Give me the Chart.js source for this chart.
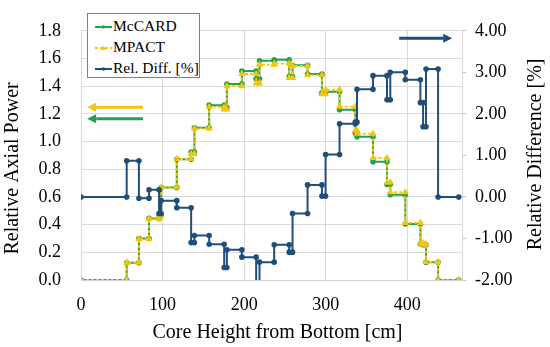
<!DOCTYPE html>
<html>
<head>
<meta charset="utf-8">
<script src="https://cdn.jsdelivr.net/npm/chart.js@4.4.1/dist/chart.umd.min.js"></script>
<style>
  body { margin: 0; background: #fff; }
  #wrap { position: relative; width: 550px; height: 347px; }
  #legend {
    position: absolute; left: 87px; top: 13px; width: 113px; height: 65px;
    box-sizing: border-box; border: 1px solid #808080; background: #fff;
    font: 15.5px "Liberation Serif", "Times New Roman", serif; color: #000; padding-top: 1px;
  }
  #legend div { height: 21px; line-height: 21px; white-space: nowrap; }
  #legend svg { vertical-align: middle; margin-left: 7px; margin-right: 1px; }
</style>
</head>
<body>
<div id="wrap">
  <canvas id="chart"></canvas>
  <div id="legend"></div>
</div>
<script>
// axial zone edges [cm], one value per zone between two edges
const zoneEdges = [0, 56, 71, 83.4, 95.7, 98.2, 117.4, 135, 139, 157.1, 175.5, 178.8, 197.2,
  214.7, 218.8, 236.8, 255.2, 259.3, 277.7, 295.3, 299.8, 316.9, 336.2, 338.3, 357.9,
  375.1, 379.1, 397.5, 416, 419.3, 422.9, 437.7, 463];

const mccard = [0, 0.125, 0.300, 0.445, 0.470, 0.668, 0.872, 0.925, 1.100, 1.263, 1.245,
  1.416, 1.510, 1.454, 1.583, 1.590, 1.470, 1.551, 1.488, 1.352, 1.360, 1.229, 1.062,
  1.034, 0.854, 0.690, 0.616, 0.405, 0.262, 0.255, 0.128, 0];

const mpact = [0, 0.126, 0.297, 0.443, 0.465, 0.668, 0.874, 0.910, 1.095, 1.250, 1.232,
  1.400, 1.488, 1.420, 1.555, 1.563, 1.460, 1.546, 1.480, 1.342, 1.375, 1.252, 1.080,
  1.057, 0.882, 0.705, 0.634, 0.413, 0.265, 0.258, 0.130, 0];

const relDiff = [0, 0.87, -0.03, 0.17, -0.40, -0.09, -0.26, -1.10, -0.93, -1.14, -1.70,
  -1.27, -1.45, -2.30, -1.57, -1.15, -1.33, -0.40, 0.29, 0.02, 1.02, 1.76, 1.80,
  2.59, 2.92, 2.34, 3.00, 2.82, 2.27, 1.69, 3.08, 0];

const xTicks = [0, 100, 200, 300, 400];
const powerTicks = [0, 0.2, 0.4, 0.6, 0.8, 1.0, 1.2, 1.4, 1.6, 1.8];
const diffTicks = [-2, -1, 0, 1, 2, 3, 4];

const GREEN = '#23a24d';
const YELLOW = '#f4c50c';
const BLUE = '#1f4e79';
const GRID = '#d9d9d9';
const FONT = '"Liberation Serif", "Times New Roman", serif';

Chart.defaults.font.family = FONT;
Chart.defaults.color = '#000';

// two points per zone -> step line
function steps(values) {
  const pts = [];
  values.forEach((v, i) => {
    pts.push({ x: zoneEdges[i], y: v });
    pts.push({ x: zoneEdges[i + 1], y: v });
  });
  return pts;
}

const datasets = [
  { label: 'McCARD', data: steps(mccard), yAxisID: 'y', borderColor: GREEN, backgroundColor: GREEN,
    borderWidth: 2, pointStyle: 'circle', pointRadius: 1.8, order: 2 },
  { label: 'MPACT', data: steps(mpact), yAxisID: 'y', borderColor: YELLOW, backgroundColor: YELLOW,
    borderWidth: 1.8, borderDash: [3, 2], pointStyle: 'triangle', pointRadius: 2.4, order: 1 },
  { label: 'Rel. Diff. [%]', data: steps(relDiff), yAxisID: 'y2', borderColor: BLUE, backgroundColor: BLUE,
    borderWidth: 2, pointStyle: 'circle', pointRadius: 1.8, order: 0 }
];

// arrows telling which axis each series uses
const arrowPlugin = {
  id: 'arrows',
  afterDatasetsDraw(chart) {
    const { ctx, scales } = chart;
    const list = [
      { from: 76, to: 7.5, y: 1.247, axis: 'y', color: YELLOW },
      { from: 76, to: 7.5, y: 1.165, axis: 'y', color: GREEN },
      { from: 390, to: 455, y: 3.82, axis: 'y2', color: BLUE }
    ];
    list.forEach(a => {
      const x1 = scales.x.getPixelForValue(a.from);
      const x2 = scales.x.getPixelForValue(a.to);
      const y = scales[a.axis].getPixelForValue(a.y);
      const dir = Math.sign(x2 - x1);
      const head = 9;
      ctx.save();
      ctx.strokeStyle = a.color;
      ctx.fillStyle = a.color;
      ctx.lineWidth = 3;
      ctx.beginPath();
      ctx.moveTo(x1, y);
      ctx.lineTo(x2 - dir * head, y);
      ctx.stroke();
      ctx.beginPath();
      ctx.moveTo(x2, y);
      ctx.lineTo(x2 - dir * head, y - 4.5);
      ctx.lineTo(x2 - dir * head, y + 4.5);
      ctx.closePath();
      ctx.fill();
      ctx.restore();
    });
  }
};

// axis titles, placed like the original (both vertical ones read bottom-to-top)
const titlePlugin = {
  id: 'axisTitles',
  afterDraw(chart) {
    const { ctx, chartArea: a } = chart;
    const items = [
      { text: 'Core Height from Bottom [cm]', x: (a.left + a.right) / 2 + 6, y: chart.height - 14, rot: 0 },
      { text: 'Relative Axial Power', x: 13, y: (a.top + a.bottom) / 2 + 13, rot: -Math.PI / 2 },
      { text: 'Relative Difference [%]', x: chart.width - 14, y: (a.top + a.bottom) / 2 - 1, rot: -Math.PI / 2 }
    ];
    items.forEach(t => {
      ctx.save();
      ctx.translate(t.x, t.y);
      ctx.rotate(t.rot);
      ctx.font = '20px ' + FONT;
      ctx.fillStyle = '#000';
      ctx.textAlign = 'center';
      ctx.textBaseline = 'middle';
      ctx.fillText(t.text, 0, 0);
      ctx.restore();
    });
  }
};

new Chart(document.getElementById('chart'), {
  type: 'scatter',
  data: { datasets: datasets.map(d => Object.assign({ showLine: true, fill: false }, d)) },
  plugins: [arrowPlugin, titlePlugin],
  options: {
    responsive: true,
    maintainAspectRatio: false,
    animation: false,
    devicePixelRatio: 1,
    layout: { padding: { top: 13, left: 0, right: 0, bottom: 0 } },
    plugins: { legend: { display: false }, tooltip: { enabled: false } },
    scales: {
      x: {
        type: 'linear', min: 0, max: 467,
        afterBuildTicks: s => { s.ticks = xTicks.map(v => ({ value: v })); },
        afterFit: s => { s.height = 67; },
        ticks: { font: { size: 18 }, padding: 14 },
        grid: { color: GRID, drawTicks: false },
        border: { color: '#cfcfcf' }
      },
      y: {
        position: 'left', min: 0, max: 1.8,
        afterBuildTicks: s => { s.ticks = powerTicks.map(v => ({ value: v })); },
        afterFit: s => { s.width = 81; },
        ticks: { font: { size: 18 }, padding: 20, callback: v => v.toFixed(1) },
        grid: { color: GRID, drawTicks: false },
        border: { color: GRID }
      },
      y2: {
        position: 'right', min: -2, max: 4,
        afterBuildTicks: s => { s.ticks = diffTicks.map(v => ({ value: v })); },
        afterFit: s => { s.width = 88; },
        ticks: { font: { size: 18 }, padding: 9, callback: v => v.toFixed(2) },
        grid: { drawOnChartArea: false, drawTicks: true, tickLength: 4, color: '#bfbfbf' },
        border: { color: GRID }
      }
    }
  }
});

// legend box inside the plot area
const legend = document.getElementById('legend');
datasets.forEach(d => {
  const row = document.createElement('div');
  const mark = d.pointStyle === 'triangle'
    ? '<polygon points="8.5,1.5 11,6 6,6" fill="' + d.borderColor + '"/>'
    : '<circle cx="8.5" cy="4" r="1.8" fill="' + d.borderColor + '"/>';
  const dash = d.borderDash ? ' stroke-dasharray="3 2"' : '';
  row.innerHTML = '<svg width="17" height="8"><line x1="0" y1="4" x2="17" y2="4" stroke="' +
    d.borderColor + '" stroke-width="' + d.borderWidth + '"' + dash + '/>' + mark + '</svg>' + d.label;
  legend.appendChild(row);
});
</script>
</body>
</html>
